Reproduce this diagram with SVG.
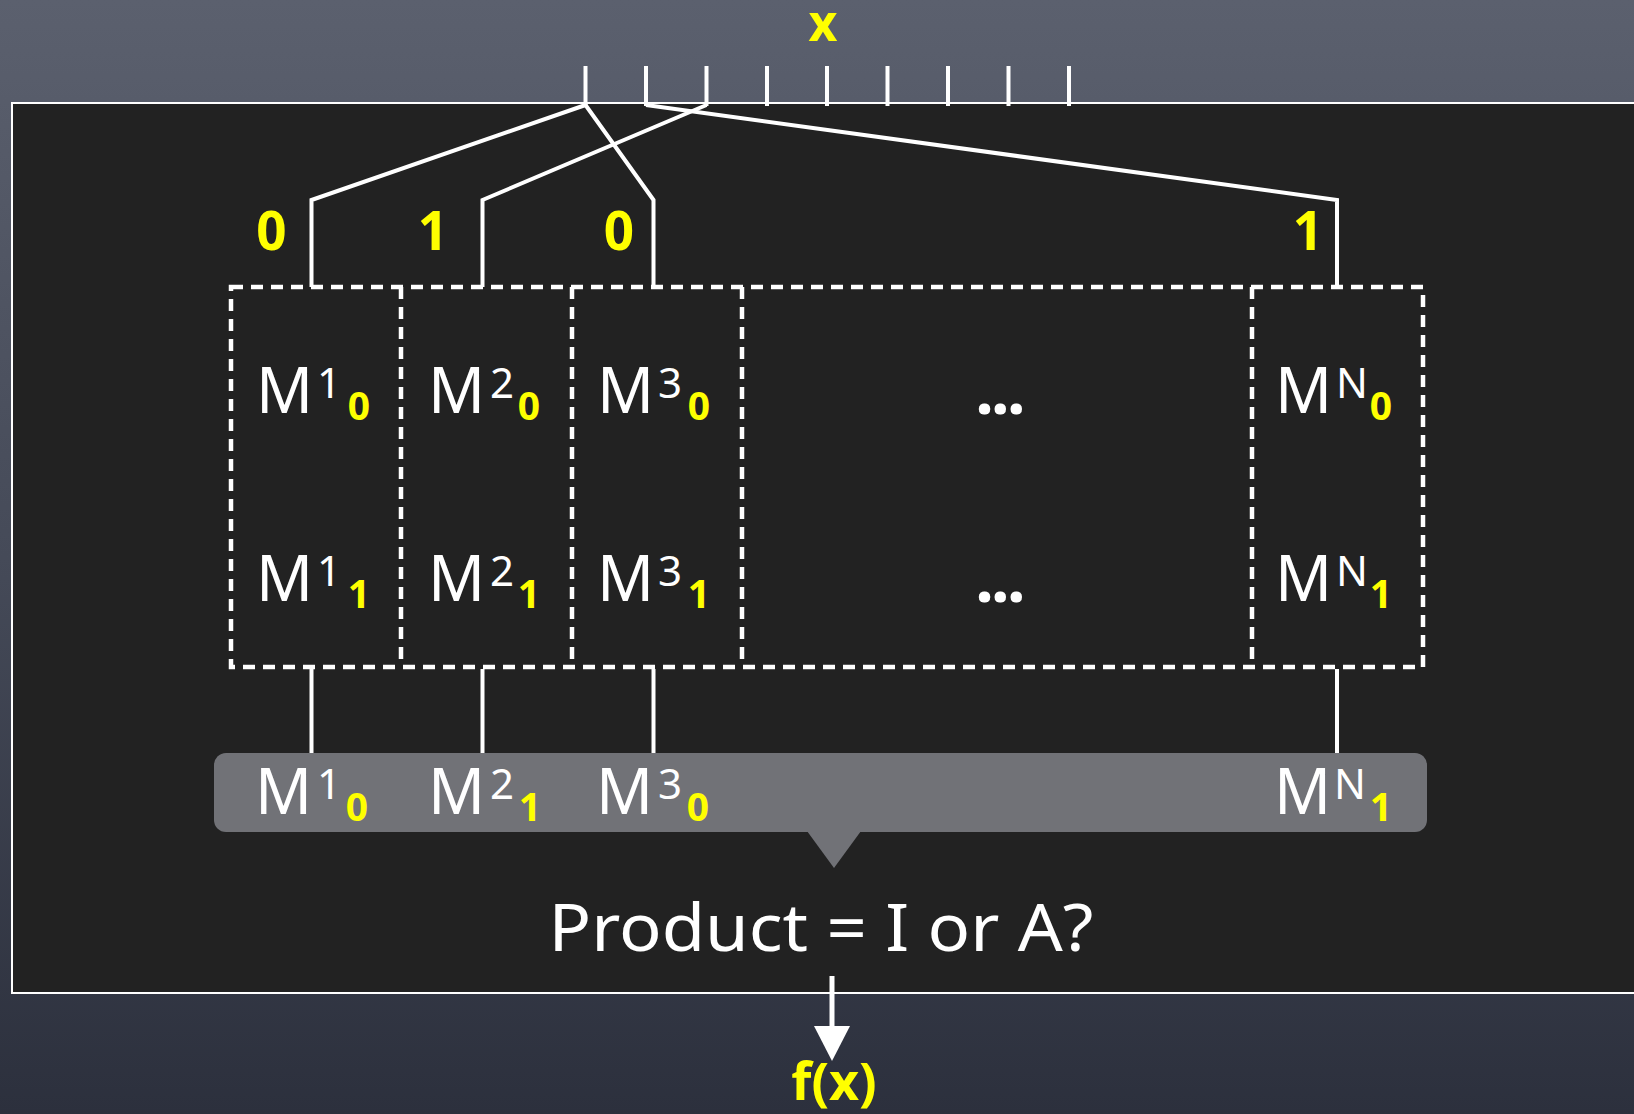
<svg xmlns="http://www.w3.org/2000/svg" width="1634" height="1114" viewBox="0 0 1634 1114">
  <defs>
    <linearGradient id="slate" x1="0" y1="0" x2="0" y2="1">
      <stop offset="0" stop-color="#5b606e"/>
      <stop offset="0.5" stop-color="#454a58"/>
      <stop offset="1" stop-color="#2c303d"/>
    </linearGradient>
    <style>
      .wire { fill: none; stroke: #ffffff; stroke-width: 4; stroke-linejoin: miter; }
      .tick { stroke: #ffffff; stroke-width: 4; }
      .dash { fill: none; stroke: #ffffff; stroke-width: 4.5; stroke-dasharray: 12 8; }
      .m { font-family: "Noto Sans", "DejaVu Sans", sans-serif; font-size: 63px; fill: #ffffff; }
      .sup { font-family: "Noto Sans", "DejaVu Sans", sans-serif; font-size: 42px; fill: #ffffff; text-anchor: middle; }
      .sub { font-family: "Noto Sans", "DejaVu Sans", sans-serif; font-size: 39px; font-weight: bold; fill: #ffff00; text-anchor: middle; }
      .bit { font-family: "Noto Sans", "DejaVu Sans", sans-serif; font-size: 53px; font-weight: bold; fill: #ffff00; text-anchor: middle; }
      .dots { font-family: "Noto Sans", "DejaVu Sans", sans-serif; font-size: 66px; font-weight: bold; fill: #ffffff; text-anchor: middle; letter-spacing: -2.7px; }
      .big { font-family: "Noto Sans", "DejaVu Sans", sans-serif; font-size: 66px; fill: #ffffff; text-anchor: middle; }
      .yel { font-family: "Noto Sans", "DejaVu Sans", sans-serif; font-weight: bold; fill: #ffff00; text-anchor: middle; }
    </style>
  </defs>

  <!-- chalkboard background -->
  <rect x="0" y="0" width="1634" height="1114" fill="url(#slate)"/>

  <!-- evaluation frame -->
  <g id="frame">
    <rect x="12" y="103" width="1700" height="890" fill="#222222" stroke="#ffffff" stroke-width="2"/>
  </g>

  <!-- input x and its bit ticks -->
  <g id="input-x">
    <text class="yel" x="823" y="41" font-size="50">x</text>
    <g id="ticks">
      <line class="tick" x1="585.5" y1="66" x2="585.5" y2="106"/>
      <line class="tick" x1="646" y1="66" x2="646" y2="106"/>
      <line class="tick" x1="706.5" y1="66" x2="706.5" y2="106"/>
      <line class="tick" x1="767" y1="66" x2="767" y2="106"/>
      <line class="tick" x1="827" y1="66" x2="827" y2="106"/>
      <line class="tick" x1="887.5" y1="66" x2="887.5" y2="106"/>
      <line class="tick" x1="948" y1="66" x2="948" y2="106"/>
      <line class="tick" x1="1008.5" y1="66" x2="1008.5" y2="106"/>
      <line class="tick" x1="1069" y1="66" x2="1069" y2="106"/>
    </g>
  </g>

  <!-- wiring from bits to matrix pairs and from pairs to the selection bar -->
  <g id="connectors">
    <polyline class="wire" points="585.5,105 311.5,200 311.5,287"/>
    <polyline class="wire" points="585.5,105 653.5,200 653.5,287"/>
    <polyline class="wire" points="706.5,105 482.5,200 482.5,287"/>
    <polyline class="wire" points="646,105 1337,200 1337,287"/>
    <line class="wire" x1="311.5" y1="669" x2="311.5" y2="754"/>
    <line class="wire" x1="482.5" y1="669" x2="482.5" y2="754"/>
    <line class="wire" x1="653.5" y1="669" x2="653.5" y2="754"/>
    <line class="wire" x1="1337" y1="669" x2="1337" y2="754"/>
  </g>

  <!-- bit values selected for each pair -->
  <g id="bit-labels">
    <text class="bit" x="271.5" y="250">0</text>
    <text class="bit" x="433" y="250">1</text>
    <text class="bit" x="619" y="250">0</text>
    <text class="bit" x="1308" y="250">1</text>
  </g>

  <!-- matrix pair grid -->
  <g id="pair-grid">
    <rect class="dash" x="231" y="287" width="1192" height="380"/>
    <line class="dash" x1="401" y1="287" x2="401" y2="667"/>
    <line class="dash" x1="572" y1="287" x2="572" y2="667"/>
    <line class="dash" x1="742" y1="287" x2="742" y2="667"/>
    <line class="dash" x1="1252" y1="287" x2="1252" y2="667"/>
  </g>

  <g id="pair-1">
    <text class="m" x="256" y="413">M</text><text class="sup" x="329" y="398">1</text><text class="sub" x="359" y="420">0</text>
    <text class="m" x="256" y="601">M</text><text class="sup" x="329" y="586">1</text><text class="sub" x="359" y="608">1</text>
  </g>
  <g id="pair-2">
    <text class="m" x="428" y="413">M</text><text class="sup" x="502" y="398">2</text><text class="sub" x="529" y="420">0</text>
    <text class="m" x="428" y="601">M</text><text class="sup" x="502" y="586">2</text><text class="sub" x="529" y="608">1</text>
  </g>
  <g id="pair-3">
    <text class="m" x="597" y="413">M</text><text class="sup" x="670" y="398">3</text><text class="sub" x="699" y="420">0</text>
    <text class="m" x="597" y="601">M</text><text class="sup" x="670" y="586">3</text><text class="sub" x="699" y="608">1</text>
  </g>
  <g id="pair-ellipsis">
    <text class="dots" x="999" y="414">...</text>
    <text class="dots" x="999" y="602">...</text>
  </g>
  <g id="pair-N">
    <text class="m" x="1275" y="413">M</text><text class="sup" x="1352" y="398">N</text><text class="sub" x="1381" y="420">0</text>
    <text class="m" x="1275" y="601">M</text><text class="sup" x="1352" y="586">N</text><text class="sub" x="1381" y="608">1</text>
  </g>

  <!-- selected matrices -->
  <g id="selection">
    <rect x="214" y="753" width="1213" height="79" rx="12" fill="#717277"/>
    <polygon points="807,831 861,831 834,868" fill="#717277"/>
    <text class="m" x="255" y="814">M</text><text class="sup" x="329" y="799">1</text><text class="sub" x="357" y="821">0</text>
    <text class="m" x="428" y="814">M</text><text class="sup" x="502" y="799">2</text><text class="sub" x="530" y="821">1</text>
    <text class="m" x="596" y="814">M</text><text class="sup" x="670" y="799">3</text><text class="sub" x="698" y="821">0</text>
    <text class="m" x="1274" y="814">M</text><text class="sup" x="1350" y="799">N</text><text class="sub" x="1381" y="821">1</text>
  </g>

  <!-- product test -->
  <g id="product">
    <text class="big" x="821" y="951" textLength="545" lengthAdjust="spacingAndGlyphs">Product = I or A?</text>
  </g>

  <!-- output -->
  <g id="output">
    <line x1="832" y1="976" x2="832" y2="1030" stroke="#ffffff" stroke-width="5"/>
    <polygon points="814,1026 850,1026 832,1061" fill="#ffffff"/>
    <text class="yel" x="834" y="1100" font-size="52">f(x)</text>
  </g>
</svg>
